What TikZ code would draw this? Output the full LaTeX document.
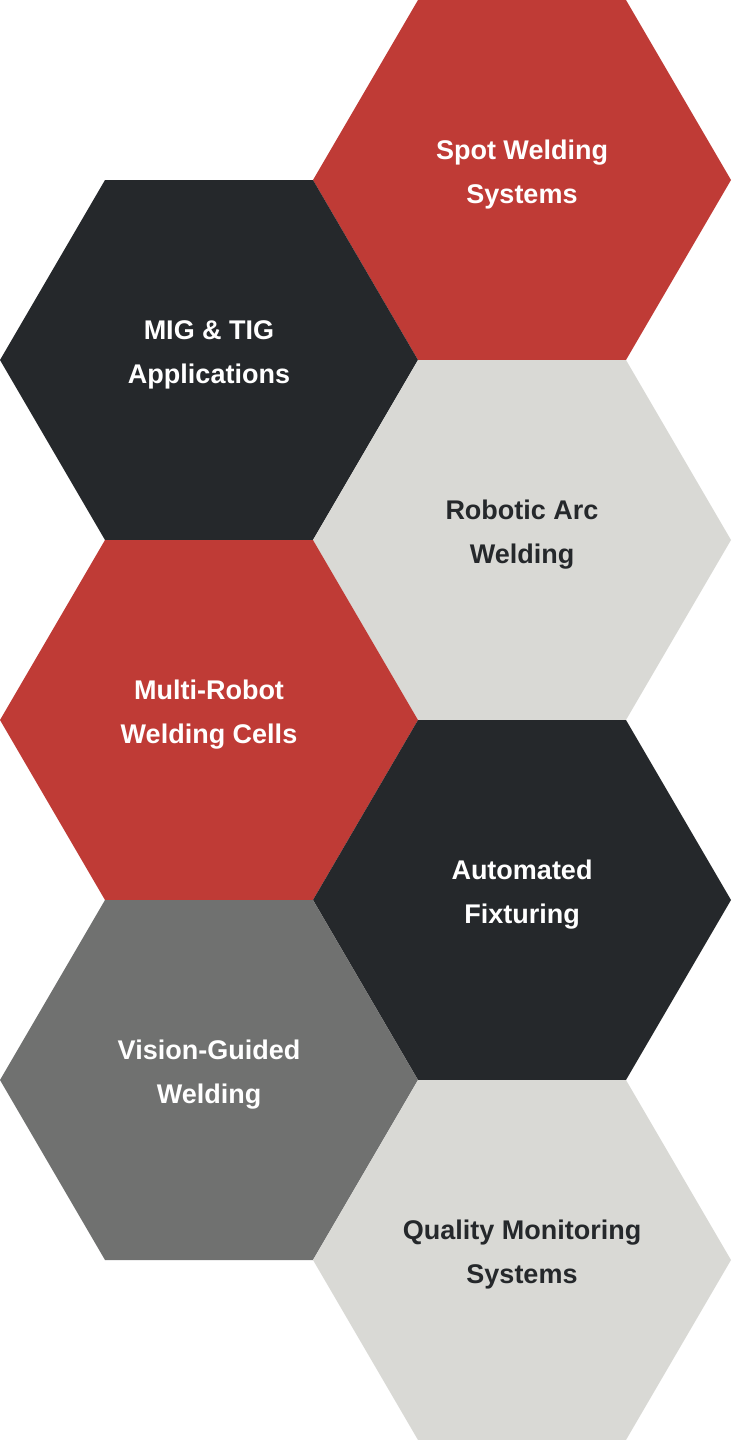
\documentclass[tikz,border=0pt]{standalone}
\usepackage{fontspec}
\setmainfont{Liberation Sans}
\definecolor{hexred}{HTML}{BF3B36}
\definecolor{hexdark}{HTML}{25282B}
\definecolor{hexlight}{HTML}{D9D9D5}
\definecolor{hexgray}{HTML}{707170}
\tikzset{
  hexlabel/.style={align=center, font=\fontsize{27}{44}\selectfont\bfseries, text=white},
  darklabel/.style={hexlabel, text=hexdark}
}
\begin{document}
\begin{tikzpicture}[x=1pt,y=-1pt]
    \useasboundingbox (0,0) rectangle (731,1440);
    % hexagons: center x, center y, fill, label style, name, text
    \foreach \cx/\cy/\col/\sty/\nm/\txt in {
        522/180/hexred/hexlabel/spot/{Spot Welding\\Systems},
        209/360/hexdark/hexlabel/mig/{MIG \& TIG\\Applications},
        522/540/hexlight/darklabel/arc/{Robotic Arc\\Welding},
        209/720/hexred/hexlabel/multi/{Multi-Robot\\Welding Cells},
        522/900/hexdark/hexlabel/fixt/{Automated\\Fixturing},
        209/1080/hexgray/hexlabel/vision/{Vision-Guided\\Welding},
        522/1260/hexlight/darklabel/quality/{Quality Monitoring\\Systems}} {
        \fill [\col] (\cx-209,\cy) -- (\cx-104,\cy+180) -- (\cx+104,\cy+180)
            -- (\cx+209,\cy) -- (\cx+104,\cy-180) -- (\cx-104,\cy-180) -- cycle;
        \node [\sty] (\nm) at (\cx,\cy-5) {\txt};
    }
\end{tikzpicture}
\end{document}
